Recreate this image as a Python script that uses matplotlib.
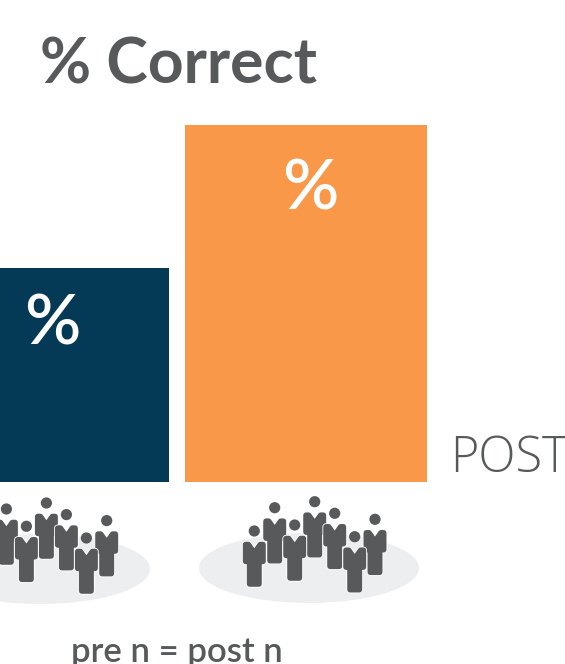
import matplotlib
matplotlib.use('Agg')
import matplotlib.pyplot as plt
from matplotlib.patches import Ellipse, Polygon, Circle

# Datos
categorias = ['pre', 'post']
valores = [30, 50]
colores = ['#053a57', '#f89848']
etiquetas = ['%', '%']

W, H = 565, 664
GRIS = '#58595b'
plt.rcParams['font.family'] = ['Lato', 'DejaVu Sans']

# Grupo de personas: centro de cada cabeza, en orden de dibujo
cabezas = [(274.7, 507.7), (254.3, 531), (314.7, 501.7), (294.7, 525),
           (375, 519.3), (334.7, 513.3), (354.7, 536.7)]
desplazamiento_pre = (-268.3, 1.3)
cuerpo = [(-8.7, 13.5), (-6, 13.5), (0, 22), (6, 13.5), (8.7, 13.5), (8.7, 30.4), (4.7, 30.4),
          (4.7, 53), (-4.7, 53), (-4.7, 30.4), (-8.7, 30.4)]

fig = plt.figure(figsize=(W / 100, H / 100), dpi=100)

# Capa en pixeles para figuras y textos
fondo = fig.add_axes([0, 0, 1, 1])
fondo.set_xlim(0, W)
fondo.set_ylim(H, 0)
fondo.axis('off')


def persona(cx, cy):
    pts = [(cx + dx, cy + dy) for dx, dy in cuerpo]
    fondo.add_patch(Polygon(pts, closed=True, facecolor='white', edgecolor='white',
                            lw=5.2, joinstyle='round', zorder=3))
    fondo.add_patch(Polygon(pts, closed=True, facecolor=GRIS, edgecolor=GRIS,
                            lw=4, joinstyle='round', zorder=3))
    fondo.add_patch(Circle((cx, cy), 5.6, facecolor=GRIS, edgecolor='none', zorder=3))


fondo.add_patch(Ellipse((309, 568), 220, 70, facecolor='#edeef0', edgecolor='none'))
fondo.add_patch(Ellipse((40, 569), 220, 70, facecolor='#edeef0', edgecolor='none'))
for cx, cy in cabezas:
    persona(cx, cy)
    persona(cx + desplazamiento_pre[0], cy + desplazamiento_pre[1])

fondo.text(40, 84, '% Correct', fontsize=45, fontweight='bold', color=GRIS,
           va='baseline', ha='left')
fondo.text(450, 472, 'POST', family=['Open Sans', 'DejaVu Sans'], fontsize=35, fontweight='light',
           color=GRIS, va='baseline', ha='left')
fondo.text(177, 661.5, 'pre n = post n', fontsize=25, fontweight='semibold', color=GRIS,
           va='baseline', ha='center')

# Barras
ax = fig.add_axes([0, 0, 1, 1])
ax.patch.set_alpha(0)
px_x = 258
px_y = 7.14
ax.set_xlim(-48 / px_x, (W - 48) / px_x)
ax.set_ylim(-(H - 482) / px_y, 482 / px_y)
ax.axis('off')
pos = range(len(categorias))
barras = ax.bar(pos, valores, width=242 / px_x, color=colores)
bajada = [77, 85]
for b, e, d in zip(barras, etiquetas, bajada):
    ax.annotate(e, (b.get_x() + b.get_width() / 2, b.get_height()),
                xytext=(3, -d * 0.72), textcoords='offset points',
                ha='center', va='baseline', color='white', fontsize=50, fontweight='semibold')

fig.savefig('out.png', dpi=100)
